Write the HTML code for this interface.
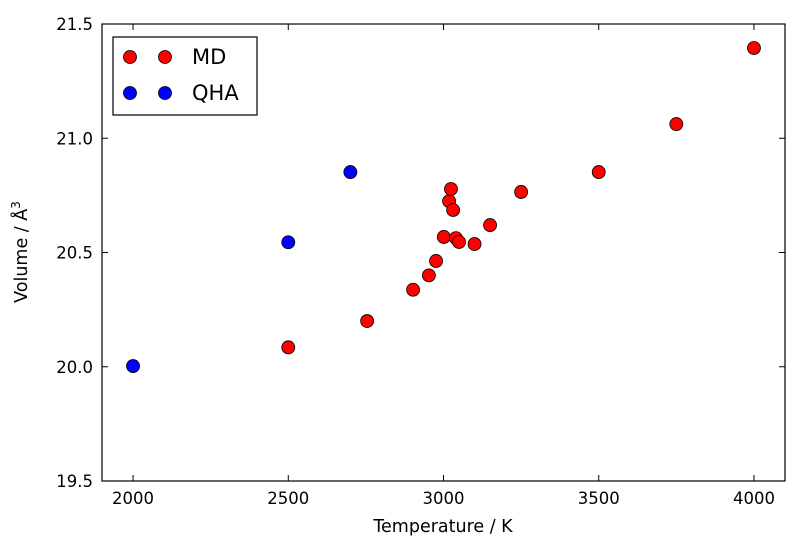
<!DOCTYPE html>
<html><head><meta charset="utf-8"><style>
body{margin:0;background:#fff}
svg text{font-family:"DejaVu Sans","Liberation Sans",sans-serif;fill:#000}
</style></head><body>
<svg width="800" height="553" viewBox="0 0 800 553">
<rect x="0" y="0" width="800" height="553" fill="#fff"/>
<g id="marks"></g>
<rect x="102" y="24" width="683" height="457" fill="none" stroke="#000" stroke-width="1.2"/>
<g id="ticks"></g>
<text x="443" y="532" font-size="17.5" text-anchor="middle">Temperature / K</text>
<text transform="translate(27,252) rotate(-90)" font-size="17.5" text-anchor="middle">Volume / Å<tspan font-size="12" dy="-7">3</tspan></text>
<g>
<rect x="113" y="37" width="144" height="78" fill="#fff" stroke="#000" stroke-width="1.2"/>
<g>
<circle cx="130" cy="57" r="6.5" fill="#f00" stroke="#000" stroke-width="0.8"/>
<circle cx="165" cy="57" r="6.5" fill="#f00" stroke="#000" stroke-width="0.8"/>
<text x="192" y="64" font-size="21">MD</text></g>
<g>
<circle cx="130" cy="93" r="6.5" fill="#00f" stroke="#000" stroke-width="0.8"/>
<circle cx="165" cy="93" r="6.5" fill="#00f" stroke="#000" stroke-width="0.8"/>
<text x="192" y="100" font-size="21">QHA</text></g>
</g>
</svg>
<script>
const mdT=[2500,2754,2902,2953,2976,3001,3018,3024,3031,3040,3050,3100,3150,3250,3500,3750,4000];
const mdV=[20.085,20.2,20.337,20.4,20.463,20.568,20.725,20.778,20.686,20.563,20.546,20.537,20.62,20.765,20.852,21.062,21.395];
const qhaT=[2000,2500,2700];
const qhaV=[20.003,20.545,20.852];
const xTicks=[2000,2500,3000,3500,4000];
const yTicks=[19.5,20.0,20.5,21.0,21.5];
const yTickLabels=["19.5","20.0","20.5","21.0","21.5"];
const X0=102,X1=785,Y0=481,Y1=24,xmin=1900,xmax=4100,ymin=19.5,ymax=21.5;
const sx=v=>X0+(v-xmin)/(xmax-xmin)*(X1-X0);
const sy=v=>Y0-(v-ymin)/(ymax-ymin)*(Y0-Y1);
const NS="http://www.w3.org/2000/svg";
const marks=document.getElementById('marks'),ticks=document.getElementById('ticks');
function mk(tag,attrs,parent){const e=document.createElementNS(NS,tag);for(const k in attrs)e.setAttribute(k,attrs[k]);parent.appendChild(e);return e;}
function series(T,V,color,name){T.forEach((t,i)=>{const c=mk('circle',{cx:sx(t),cy:sy(V[i]),r:6.5,fill:color,stroke:'#000','stroke-width':0.8},marks);

});}
series(mdT,mdV,'#f00','md');
series(qhaT,qhaV,'#00f','qha');
xTicks.forEach(t=>{const x=sx(t);
mk('line',{x1:x,x2:x,y1:Y0,y2:Y0-6,stroke:'#000'},ticks);
mk('line',{x1:x,x2:x,y1:Y1,y2:Y1+6,stroke:'#000'},ticks);
const tx=mk('text',{x:x,y:Y0+23,'font-size':16.5,'text-anchor':'middle'},ticks);tx.textContent=t;

});
yTicks.forEach((t,i)=>{const y=sy(t);
mk('line',{x1:X0,x2:X0+6,y1:y,y2:y,stroke:'#000'},ticks);
mk('line',{x1:X1,x2:X1-6,y1:y,y2:y,stroke:'#000'},ticks);
const tx=mk('text',{x:X0-9,y:y+6,'font-size':16.5,'text-anchor':'end'},ticks);tx.textContent=yTickLabels[i];

});
</script>
</body></html>
